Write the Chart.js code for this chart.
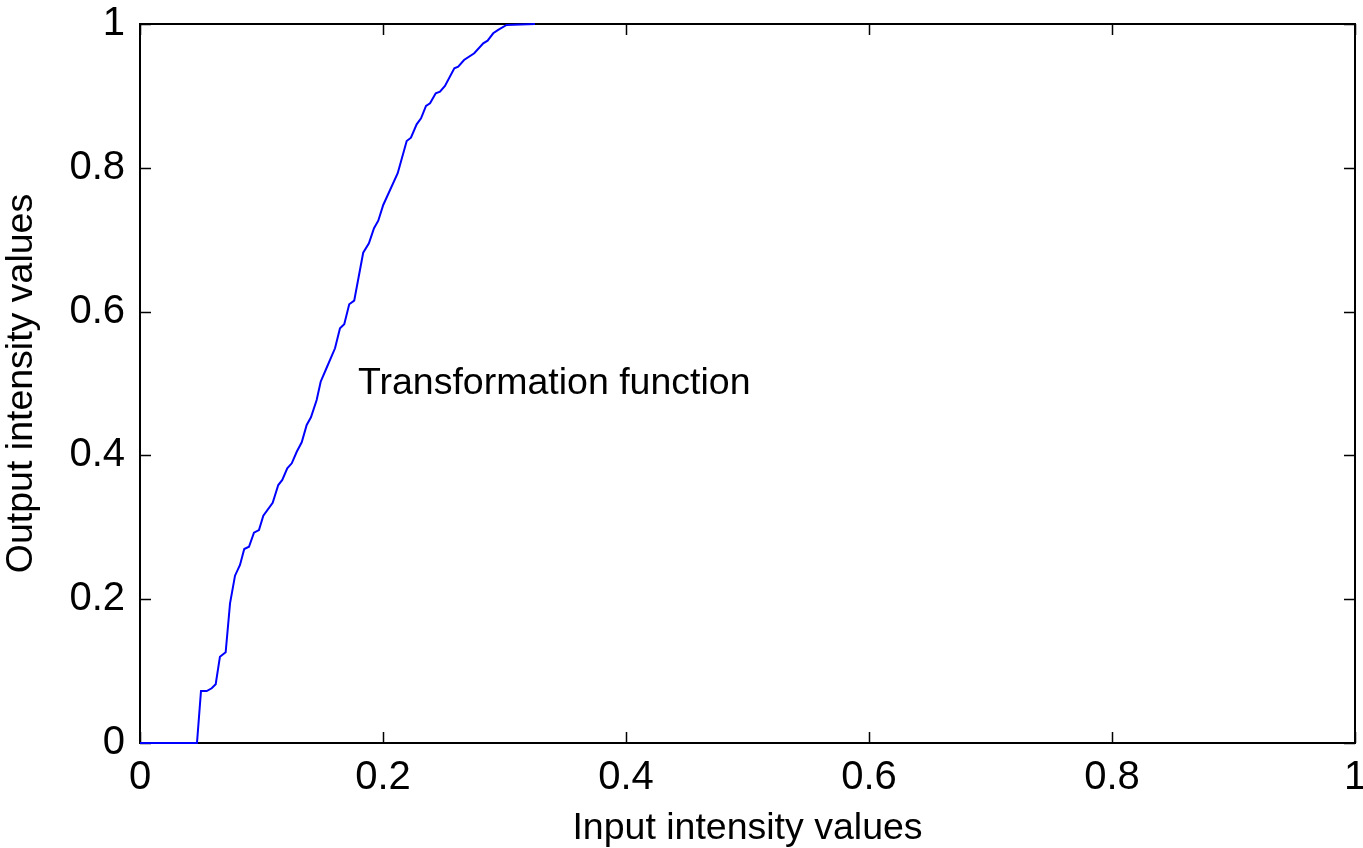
<!DOCTYPE html>
<html>
<head>
<meta charset="utf-8">
<title>Transformation function</title>
<script src="https://cdn.jsdelivr.net/npm/chart.js@4.4.1/dist/chart.umd.min.js"></script>
<style>
  html, body { margin: 0; padding: 0; background: #fff; }
  canvas { display: block; }
</style>
</head>
<body>
<canvas id="curve" width="1363" height="848"></canvas>
<script>
// input intensity (x) and mapped output intensity (y)
const inputValues = [
  0, 0.0469, 0.0502, 0.0549, 0.0590, 0.0623, 0.0658, 0.0705, 0.0741, 0.0782,
  0.0823, 0.0858, 0.0897, 0.0938, 0.0979, 0.1015, 0.1092, 0.1138, 0.1171, 0.1212,
  0.1249, 0.1290, 0.1331, 0.1372, 0.1407, 0.1454, 0.1487, 0.1531, 0.1605, 0.1646,
  0.1681, 0.1722, 0.1763, 0.1837, 0.1884, 0.1926, 0.1961, 0.2002, 0.2121, 0.2195,
  0.2230, 0.2277, 0.2313, 0.2354, 0.2387, 0.2434, 0.2469, 0.2510, 0.2587, 0.2619,
  0.2667, 0.2751, 0.2825, 0.2861, 0.2907, 0.2948, 0.3017, 0.3251
];
const outputValues = [
  0, 0, 0.0723, 0.0723, 0.0761, 0.0817, 0.1200, 0.1261, 0.1943, 0.2327,
  0.2476, 0.2698, 0.2730, 0.2925, 0.2962, 0.3161, 0.3342, 0.3588, 0.3658, 0.3821,
  0.3890, 0.4051, 0.4182, 0.4423, 0.4530, 0.4771, 0.5025, 0.5198, 0.5490, 0.5768,
  0.5823, 0.6102, 0.6152, 0.6819, 0.6950, 0.7159, 0.7264, 0.7483, 0.7924, 0.8373,
  0.8419, 0.8605, 0.8688, 0.8860, 0.8897, 0.9036, 0.9058, 0.9138, 0.9384, 0.9406,
  0.9499, 0.9593, 0.9732, 0.9768, 0.9871, 0.9917, 0.9986, 1
];

const tickValues = [0, 0.2, 0.4, 0.6, 0.8, 1];
const tickLabels = ['0', '0.2', '0.4', '0.6', '0.8', '1'];

const curveLabel = 'Transformation function';
const curveLabelAt = { x: 0.1794, y: 0.500 };

const FONT = 'Liberation Sans, Arial, Helvetica, sans-serif';
const TICK_SIZE = 40;
const TITLE_SIZE = 37.5;

const points = inputValues.map((x, i) => ({ x: x, y: outputValues[i] }));

// box frame with inward tick marks on all four sides, plus the in-plot text;
// drawn before the curve so the blue line sits on top of the frame
const frameAndTicks = {
  id: 'frameAndTicks',
  beforeDatasetsDraw(chart) {
    const { ctx, chartArea: a, scales } = chart;
    const len = 11;
    ctx.save();
    ctx.strokeStyle = '#000';
    ctx.lineWidth = 1.5;
    ctx.beginPath();
    scales.x.ticks.forEach(t => {
      const px = Math.round(scales.x.getPixelForValue(t.value)) + 0.5;
      ctx.moveTo(px, a.bottom); ctx.lineTo(px, a.bottom - len);
      ctx.moveTo(px, a.top); ctx.lineTo(px, a.top + len);
    });
    scales.y.ticks.forEach(t => {
      const py = Math.round(scales.y.getPixelForValue(t.value)) + 0.5;
      ctx.moveTo(a.left, py); ctx.lineTo(a.left + len, py);
      ctx.moveTo(a.right, py); ctx.lineTo(a.right - len, py);
    });
    ctx.stroke();
    ctx.lineWidth = 2;
    ctx.strokeRect(a.left, a.top, a.right - a.left, a.bottom - a.top);

    ctx.fillStyle = '#000';
    ctx.font = TITLE_SIZE + 'px ' + FONT;
    ctx.textAlign = 'left';
    ctx.textBaseline = 'middle';
    ctx.fillText(curveLabel,
      scales.x.getPixelForValue(curveLabelAt.x),
      scales.y.getPixelForValue(curveLabelAt.y));
    ctx.restore();
  }
};

function fixedTicks(scale) {
  scale.ticks = tickValues.map(v => ({ value: v }));
}

new Chart(document.getElementById('curve'), {
  type: 'scatter',
  data: {
    datasets: [{
      data: points,
      showLine: true,
      borderColor: '#0000ff',
      borderWidth: 2,
      pointRadius: 0,
      tension: 0,
      fill: false,
      clip: false
    }]
  },
  options: {
    responsive: false,
    animation: false,
    devicePixelRatio: 1,
    layout: { padding: { top: 24, right: 8, left: 0, bottom: 0 } },
    plugins: {
      legend: { display: false },
      tooltip: { enabled: false }
    },
    scales: {
      x: {
        type: 'linear',
        min: 0, max: 1,
        afterBuildTicks: fixedTicks,
        afterFit(scale) {
          scale.height = 105;
          scale.paddingLeft = 0;
          scale.paddingRight = 0;
        },
        grid: { display: false, drawTicks: false },
        border: { display: false },
        ticks: {
          padding: 11,
          color: '#000',
          font: { family: FONT, size: TICK_SIZE },
          maxRotation: 0,
          autoSkip: false,
          callback: (v, i) => tickLabels[i]
        },
        title: {
          display: true,
          text: 'Input intensity values',
          color: '#000',
          font: { family: FONT, size: TITLE_SIZE },
          padding: { top: 0, bottom: -3 }
        }
      },
      y: {
        type: 'linear',
        min: 0, max: 1,
        afterBuildTicks: fixedTicks,
        afterFit(scale) {
          scale.width = 140;
          scale.paddingTop = 0;
          scale.paddingBottom = 0;
        },
        grid: { display: false, drawTicks: false },
        border: { display: false },
        ticks: {
          padding: 15,
          color: '#000',
          font: { family: FONT, size: TICK_SIZE },
          autoSkip: false,
          callback: (v, i) => tickLabels[i]
        },
        title: {
          display: true,
          text: 'Output intensity values',
          color: '#000',
          font: { family: FONT, size: TITLE_SIZE },
          padding: { top: -1, bottom: 0 }
        }
      }
    }
  },
  plugins: [frameAndTicks]
});
</script>
</body>
</html>
